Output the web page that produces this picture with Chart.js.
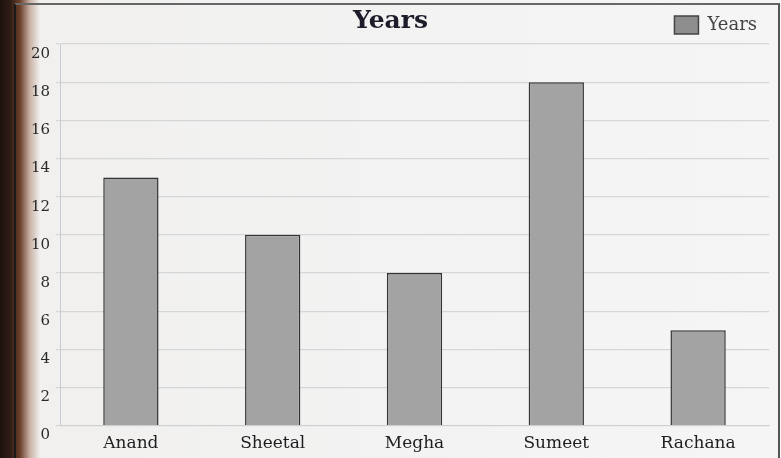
<!DOCTYPE html>
<html>
<head>
<meta charset="utf-8">
<script src="https://cdn.jsdelivr.net/npm/chart.js@4"></script>
<style>
  html, body { margin: 0; padding: 0; }
  body {
    width: 781px; height: 458px; overflow: hidden;
    background: linear-gradient(to right, #1c120d 0px, #2e1c14 10px, #6b3f2a 20px, #c9b2a6 30px, #f1f0ef 40px, #f5f5f5 100%);
  }
  #frame {
    position: absolute; left: 14px; top: 3px; width: 762px; height: 460px;
    border-top: 2px solid #666; border-right: 2px solid #555; border-left: 2px solid #1a1a1a;
  }
  #wrap { position: absolute; left: 0; top: 0; width: 781px; height: 458px; }
</style>
</head>
<body>
<div id="frame"></div>
<div id="wrap"><canvas id="chart" width="781" height="458"></canvas></div>
<script>
document.addEventListener("DOMContentLoaded", () => {

  // data
  const names = ["Anand", "Sheetal", "Megha", "Sumeet", "Rachana"];
  const years = [13, 10, 8, 18, 5];
  const yTicks = [0, 2, 4, 6, 8, 10, 12, 14, 16, 18, 20];

  const serif = "'DejaVu Serif', 'Liberation Serif', serif";

  new Chart(document.getElementById("chart"), {
    type: "bar",
    data: {
      labels: names,
      datasets: [{
        label: "Years",
        data: years,
        backgroundColor: "#a3a3a3",
        borderColor: "#333333",
        borderWidth: 1.5,
        barPercentage: 0.39,
        categoryPercentage: 1
      }]
    },
    options: {
      responsive: false,
      animation: false,
      layout: { padding: { left: 12, right: 12, top: 2, bottom: 4 } },
      plugins: {
        title: {
          display: true,
          text: "Years",
          color: "#1c1c2a",
          font: { family: serif, size: 25, weight: "bold" },
          padding: { top: 4, bottom: -32 }
        },
        legend: {
          position: "top",
          align: "end",
          labels: {
            color: "#444",
            font: { family: serif, size: 18 },
            boxWidth: 24,
            boxHeight: 18,
            padding: 12,
            generateLabels: (chart) => [{
              text: "Years",
              fillStyle: "#8e8e8e",
              strokeStyle: "#444",
              lineWidth: 1.5,
              fontColor: "#444",
              datasetIndex: 0
            }]
          }
        },
        tooltip: { enabled: false }
      },
      scales: {
        x: {
          grid: { display: false },
          border: { color: "#cfcfcf" },
          ticks: {
            color: "#1e1e1e",
            font: { family: serif, size: 17 },
            padding: 0
          }
        },
        y: {
          min: 0,
          max: 20,
          afterBuildTicks: (axis) => { axis.ticks = yTicks.map(v => ({ value: v })); },
          afterFit: (axis) => { axis.width = 48; },
          grid: { color: "#d6d6d6", lineWidth: 1.2, drawTicks: true, tickLength: 4 },
          border: { color: "#c8ccd2" },
          ticks: {
            color: "#2a2a2a",
            font: { family: serif, size: 15 },
            padding: 6,
            labelOffset: 10
          }
        }
      }
    }
  });

});
</script>
</body>
</html>
